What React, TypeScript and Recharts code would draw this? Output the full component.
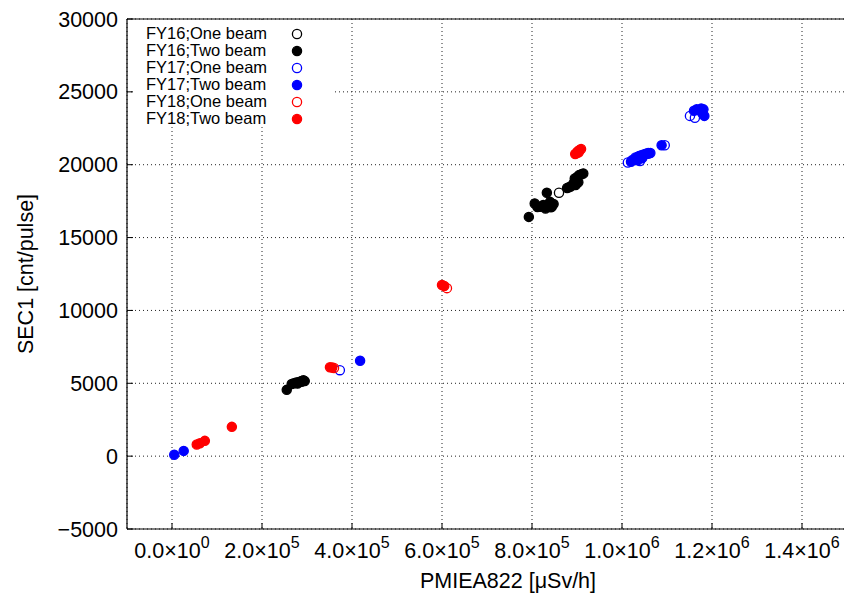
import React from "react";
import {
  CartesianGrid,
  Legend,
  Scatter,
  ScatterChart,
  XAxis,
  YAxis,
} from "recharts";

// [PMIEA822 uSv/h, SEC1 cnt/pulse]
const fy16OneBeam = [
  [288000, 5100],
  [842000, 17080],
  [860000, 18080],
  [897000, 18950],
];
const fy16TwoBeam = [
  [255000, 4550], [266000, 4950], [271000, 5000], [276000, 5050], [279000, 4980],
  [280000, 5050], [284000, 5100], [288000, 5150], [292000, 5200], [295000, 5150],
  [793000, 16420], [806000, 17340], [812000, 17100], [818000, 17110], [825000, 17230],
  [830000, 17000], [833000, 18070], [836000, 17200], [840000, 17450], [844000, 17110],
  [848000, 17300], [878000, 18400], [882000, 18450], [886000, 18500], [892000, 18720],
  [897000, 18600], [895000, 19060], [901000, 19170], [903000, 18800], [905000, 19300],
  [910000, 19350], [914000, 19400],
];
const fy17OneBeam = [
  [373000, 5900], [1013000, 20150], [1022000, 20300], [1030000, 20500], [1040000, 20250],
  [1058000, 20750], [1095000, 21340], [1151000, 23350], [1162000, 23220],
];
const fy17TwoBeam = [
  [5000, 100], [26000, 360], [418000, 6550],
  [1020000, 20200], [1028000, 20400], [1033000, 20500], [1035000, 20300], [1038000, 20600],
  [1043000, 20650], [1045000, 20450], [1048000, 20700], [1053000, 20750], [1058000, 20800],
  [1063000, 20800], [1088000, 21330],
  [1160000, 23700], [1166000, 23800], [1171000, 23750], [1176000, 23850], [1178000, 23550],
  [1181000, 23800], [1183000, 23350],
];
const fy18OneBeam = [
  [360000, 6050], [611000, 11530], [900000, 20800],
];
const fy18TwoBeam = [
  [55000, 800], [62000, 880], [73000, 1050], [133000, 2010],
  [351000, 6100], [356000, 6080], [600000, 11750], [605000, 11680],
  [896000, 20730], [901000, 20900], [904000, 20850], [905000, 21000], [909000, 21080],
];

const xTicks = [0, 200000, 400000, 600000, 800000, 1000000, 1200000, 1400000];
const yTicks = [-5000, 0, 5000, 10000, 15000, 20000, 25000, 30000];

const series = [
  { name: "FY16;One beam", color: "#000000", open: true, points: fy16OneBeam },
  { name: "FY16;Two beam", color: "#000000", open: false, points: fy16TwoBeam },
  { name: "FY17;One beam", color: "#0000ff", open: true, points: fy17OneBeam },
  { name: "FY17;Two beam", color: "#0000ff", open: false, points: fy17TwoBeam },
  { name: "FY18;One beam", color: "#ff0000", open: true, points: fy18OneBeam },
  { name: "FY18;Two beam", color: "#ff0000", open: false, points: fy18TwoBeam },
];

const FONT = '"Liberation Sans", Arial, Helvetica, sans-serif';
const FS = 21.5;
const R = 4.6;

const fmtX = (v: number) => {
  const exp = v === 0 ? 0 : Math.floor(Math.log10(v));
  return { mant: (v / Math.pow(10, exp)).toFixed(1), exp: String(exp) };
};

const BottomTick = ({ x, y, payload }: any) => {
  const { mant, exp } = fmtX(payload.value);
  return (
    <g>
      <line x1={x} x2={x} y1={y} y2={y - 6} stroke="#000" />
      <text x={x} y={y + 29} textAnchor="middle" fontSize={FS} fontFamily={FONT} fill="#000">
        {mant}×10
        <tspan dy={-10} fontSize={16}>{exp}</tspan>
      </text>
    </g>
  );
};

const TopTick = ({ x, y }: any) => (
  <line x1={x} x2={x} y1={y} y2={y + 6} stroke="#000" />
);

const LeftTick = ({ x, y, payload }: any) => (
  <g>
    <line x1={x + 9} x2={x + 15} y1={y} y2={y} stroke="#000" />
    <text x={x} y={y} dy={7.5} textAnchor="end" fontSize={FS} fontFamily={FONT} fill="#000">
      {payload.value < 0 ? `\u2212${-payload.value}` : payload.value}
    </text>
  </g>
);

const KeyBox = () => (
  <div
    style={{
      background: "#fff",
      width: 198,
      height: 106,
      paddingTop: 4,
      boxSizing: "border-box",
      fontFamily: FONT,
    }}
  >
    {series.map((s) => (
      <div key={s.name} style={{ display: "flex", alignItems: "center", height: 17 }}>
        <span style={{ width: 145, paddingLeft: 12, fontSize: 16.5, lineHeight: "17px", color: "#000" }}>
          {s.name}
        </span>
        <svg width={12} height={12}>
          <circle
            cx={6}
            cy={6}
            r={R}
            fill={s.open ? "none" : s.color}
            stroke={s.color}
            strokeWidth={1.3}
          />
        </svg>
      </div>
    ))}
  </div>
);

export default function App() {
  return (
    <div
      style={{
        position: "absolute",
        left: 0,
        top: 0,
        width: 844,
        height: 600,
        overflow: "hidden",
        background: "#fff",
      }}
    >
      <ScatterChart
        width={860}
        height={600}
        margin={{ top: 0, right: 13, bottom: 0, left: 0 }}
      >
        <CartesianGrid stroke="#222" strokeDasharray="1 3" />
        <XAxis
          type="number"
          dataKey="x"
          domain={[-100000, 1500000]}
          ticks={xTicks}
          allowDataOverflow
          height={71}
          tickSize={0}
          tickMargin={0}
          tickLine={false}
          tick={<BottomTick />}
          axisLine={{ stroke: "#000", strokeWidth: 1.2 }}
          label={{
            value: "PMIEA822 [\u03bcSv/h]",
            position: "insideBottom",
            offset: 12,
            dx: 21,
            style: { fontSize: FS, fontFamily: FONT, fill: "#000" },
          }}
        />
        <XAxis
          xAxisId="top"
          orientation="top"
          type="number"
          domain={[-100000, 1500000]}
          ticks={xTicks}
          allowDataOverflow
          height={19}
          tickSize={0}
          tickMargin={0}
          tickLine={false}
          tick={<TopTick />}
          axisLine={{ stroke: "#000", strokeWidth: 1.2 }}
        />
        <YAxis
          type="number"
          dataKey="y"
          domain={[-5000, 30000]}
          ticks={yTicks}
          allowDataOverflow
          width={127}
          tickSize={0}
          tickMargin={9}
          tickLine={false}
          tick={<LeftTick />}
          axisLine={{ stroke: "#000", strokeWidth: 1.2 }}
          label={{
            value: "SEC1 [cnt/pulse]",
            angle: -90,
            position: "center",
            dx: -38,
            style: { fontSize: FS, fontFamily: FONT, fill: "#000" },
          }}
        />
        <Legend
          layout="vertical"
          align="center"
          verticalAlign="middle"
          content={() => <KeyBox />}
          wrapperStyle={{ left: 134, top: 21, width: 198, height: 106 }}
        />
        {series.map((s) => (
          <Scatter
            key={s.name}
            name={s.name}
            data={s.points.map(([x, y]) => ({ x, y }))}
            isAnimationActive={false}
            shape={(p: any) => (
              <circle
                cx={p.cx}
                cy={p.cy}
                r={R}
                fill={s.open ? "none" : s.color}
                stroke={s.color}
                strokeWidth={1.3}
              />
            )}
          />
        ))}
      </ScatterChart>
    </div>
  );
}
